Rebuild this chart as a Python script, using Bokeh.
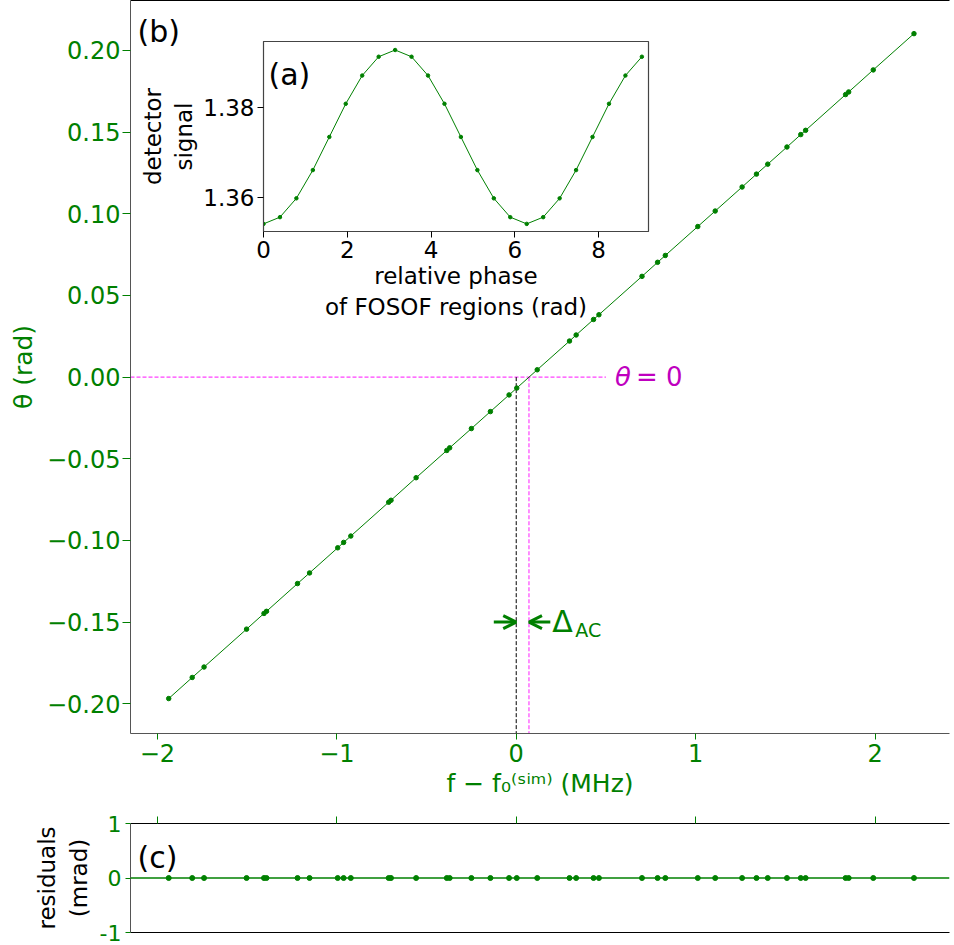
from bokeh.plotting import figure
from bokeh.models import (Range1d, LinearAxis, FixedTicker, CustomJSTickFormatter,
                          Label, Arrow, OpenHead, Span)
from bokeh.layouts import column
from bokeh.embed import file_html
from bokeh.resources import INLINE

# ---------------- data ----------------
freq_offset = [-1.937, -1.806, -1.740, -1.503, -1.406, -1.392, -1.219, -1.152, -0.995, -0.962,
               -0.922, -0.711, -0.698, -0.558, -0.387, -0.371, -0.250, -0.144, -0.040, 0.003,
               0.117, 0.297, 0.334, 0.431, 0.461, 0.701, 0.788, 0.831, 1.012, 1.109,
               1.259, 1.339, 1.402, 1.509, 1.586, 1.613, 1.836, 1.853, 1.990, 2.217]
theta = [-0.1968, -0.1839, -0.1775, -0.1543, -0.1447, -0.1434, -0.1264, -0.1199, -0.1045, -0.1012,
         -0.0973, -0.0766, -0.0754, -0.0616, -0.0449, -0.0433, -0.0315, -0.0211, -0.0109, -0.0067,
         0.0045, 0.0221, 0.0258, 0.0353, 0.0382, 0.0617, 0.0703, 0.0745, 0.0922, 0.1017,
         0.1164, 0.1243, 0.1304, 0.1409, 0.1485, 0.1511, 0.1730, 0.1746, 0.1881, 0.2103]
residuals = [0.0, 0.0, 0.0, 0.0, 0.0, 0.0, 0.0, 0.0, 0.0, 0.0,
             0.0, 0.0, 0.0, 0.0, 0.0, 0.0, 0.0, 0.0, 0.0, 0.0,
             0.0, 0.0, 0.0, 0.0, 0.0, 0.0, 0.0, 0.0, 0.0, 0.0,
             0.0, 0.0, 0.0, 0.0, 0.0, 0.0, 0.0, 0.0, 0.0, 0.0]
phase = [0.000, 0.393, 0.785, 1.178, 1.571, 1.963, 2.356, 2.749, 3.142, 3.534, 3.927, 4.320,
         4.712, 5.105, 5.498, 5.890, 6.283, 6.676, 7.069, 7.461, 7.854, 8.247, 8.639, 9.032]
signal = [1.3541, 1.3556, 1.3598, 1.3661, 1.3735, 1.3809, 1.3872, 1.3914, 1.3929, 1.3914, 1.3872, 1.3809,
          1.3735, 1.3661, 1.3598, 1.3556, 1.3541, 1.3556, 1.3598, 1.3661, 1.3735, 1.3809, 1.3872, 1.3914]
zero_crossing = 0.071          # MHz, where theta = 0 (Delta_AC)
theta_ticks = [-0.20, -0.15, -0.10, -0.05, 0.00, 0.05, 0.10, 0.15, 0.20]
freq_ticks = [-2, -1, 0, 1, 2]
resid_ticks = [-1, 0, 1]
phase_ticks = [0, 2, 4, 6, 8]
signal_ticks = [1.36, 1.38]

GREEN = "#008000"
MAG_TXT = "#bf00bf"
MAG = "#ff00ff"
FONT = "DejaVu Sans"

X0, X1 = -2.15, 2.415
Y0, Y1 = -0.2182, 0.2306


def style_axis(ax, ticks, tick_color, label_color, size="24px", tick_len=7,
               line_color="#555555", standoff=3):
    ax.ticker = FixedTicker(ticks=ticks)
    ax.major_tick_line_color = tick_color
    ax.major_tick_out = tick_len
    ax.major_tick_in = 0
    ax.minor_tick_line_color = None
    ax.axis_line_color = line_color
    ax.major_label_text_color = label_color
    ax.major_label_text_font = FONT
    ax.major_label_text_font_size = size
    ax.major_label_standoff = standoff


def style_label(ax, text, color, size="24px", standoff=4):
    ax.axis_label = text
    ax.axis_label_text_font = FONT
    ax.axis_label_text_font_size = size
    ax.axis_label_text_font_style = "normal"
    ax.axis_label_text_color = color
    ax.axis_label_standoff = standoff


def bare_axis(ticks=(), tick_color=GREEN, tick_len=0, line_color="black"):
    ax = LinearAxis(ticker=FixedTicker(ticks=list(ticks)))
    ax.axis_line_color = line_color
    ax.major_tick_line_color = tick_color
    ax.major_tick_out = tick_len
    ax.major_tick_in = 0
    ax.minor_tick_line_color = None
    ax.major_label_text_color = None
    ax.major_label_text_font_size = "1px"
    ax.major_label_standoff = 0
    return ax


minus_fmt2 = CustomJSTickFormatter(code="""
const v = Math.abs(tick) < 1e-9 ? 0 : tick;
return v.toFixed(2).replace('-', '\u2212');
""")
minus_fmt0 = CustomJSTickFormatter(code="""
const v = Math.abs(tick) < 1e-9 ? 0 : tick;
return v.toFixed(0).replace('-', '\u2212');
""")
hyphen_fmt0 = CustomJSTickFormatter(code="""
const v = Math.abs(tick) < 1e-9 ? 0 : tick;
return v.toFixed(0);
""")

# ---------------- main panel (b) ----------------
xr = Range1d(X0, X1)
main = figure(width=954, height=808, x_range=xr, y_range=Range1d(Y0, Y1),
              output_backend="svg", toolbar_location=None,
              min_border_left=123, min_border_right=0, min_border_top=0, min_border_bottom=75)
main.outline_line_color = None
main.grid.visible = False
main.background_fill_color = "white"
main.border_fill_color = "white"

style_axis(main.yaxis[0], theta_ticks, GREEN, GREEN, tick_len=8, standoff=2)
main.yaxis[0].formatter = minus_fmt2
style_label(main.yaxis[0], "θ (rad)", GREEN, size="25px", standoff=6)
style_axis(main.xaxis[0], freq_ticks, GREEN, GREEN, tick_len=6, standoff=4)
main.xaxis[0].formatter = minus_fmt0
style_label(main.xaxis[0], "f − f₀⁽ˢⁱᵐ⁾ (MHz)", GREEN, size="25px", standoff=4)
main.add_layout(bare_axis(), "above")

# guide lines
main.segment(x0=[X0], y0=[0], x1=[0.5], y1=[0], line_color=MAG, line_alpha=0.75,
             line_dash="4 2", line_width=1.2)
main.segment(x0=[zero_crossing], y0=[0], x1=[zero_crossing], y1=[Y0], line_color=MAG,
             line_alpha=0.75, line_dash="4 2", line_width=1.2)
main.segment(x0=[0], y0=[0], x1=[0], y1=[Y0], line_color="black", line_dash="4 2", line_width=1)

main.line(freq_offset, theta, line_color=GREEN, line_width=1)
main.scatter(freq_offset, theta, size=4.5, color=GREEN)

arrow_y = -0.15
for xs, xe in ((-0.125, 0.0), (0.19, zero_crossing)):
    main.add_layout(Arrow(end=OpenHead(size=13, line_color=GREEN, line_width=3),
                          x_start=xs, y_start=arrow_y, x_end=xe, y_end=arrow_y,
                          line_color=GREEN, line_width=3))
main.add_layout(Label(x=0.19, y=arrow_y, x_offset=2, y_offset=1, text="Δ", text_color=GREEN,
                      text_font=FONT, text_font_size="30px", text_baseline="middle"))
main.add_layout(Label(x=0.19, y=arrow_y, x_offset=25, y_offset=-8, text="AC", text_color=GREEN,
                      text_font=FONT, text_font_size="19px", text_baseline="middle"))

main.add_layout(Label(x=0.55, y=0, text="θ", text_color=MAG_TXT, text_font=FONT,
                      text_font_style="italic", text_font_size="26px", text_baseline="middle"))
main.add_layout(Label(x=0.55, y=0, x_offset=21, text="= 0", text_color=MAG_TXT, text_font=FONT,
                      text_font_size="26px", text_baseline="middle"))

main.add_layout(Label(x=7, y=702, x_units="screen", y_units="screen", text="(b)", text_color="black",
                      text_font=FONT, text_font_size="30px", text_baseline="middle"))

# ---------------- residuals panel (c) ----------------
res = figure(width=954, height=137, x_range=xr, y_range=Range1d(-1, 1),
             output_backend="svg", toolbar_location=None,
             min_border_left=123, min_border_right=0, min_border_top=15, min_border_bottom=13)
res.outline_line_color = None
res.grid.visible = False
res.background_fill_color = "white"
res.border_fill_color = "white"
style_axis(res.yaxis[0], resid_ticks, GREEN, GREEN, size="22px", tick_len=5, standoff=4)
res.yaxis[0].formatter = hyphen_fmt0
style_label(res.yaxis[0], "residuals\n(mrad)", "black", size="23px", standoff=5)
res.xaxis[0].ticker = FixedTicker(ticks=[])
res.xaxis[0].axis_line_color = "black"
res.xaxis[0].major_tick_out = 0
res.xaxis[0].major_label_text_color = None
res.xaxis[0].major_label_text_font_size = "1px"
res.xaxis[0].major_label_standoff = 0
res.xaxis[0].minor_tick_line_color = None
res.add_layout(bare_axis(freq_ticks, GREEN, 7, "black"), "above")
res.add_layout(Span(location=0, dimension="width", line_color=GREEN, line_width=1.5))
res.scatter(freq_offset, residuals, size=5, color=GREEN)
res.add_layout(Label(x=7, y=75, x_units="screen", y_units="screen", text="(c)", text_color="black",
                     text_font=FONT, text_font_size="30px", text_baseline="middle"))

# ---------------- inset (a) ----------------
inset = figure(width=520, height=286, x_range=Range1d(0, 9.19), y_range=Range1d(1.3524, 1.3948),
               output_backend="svg", toolbar_location=None,
               min_border_left=130, min_border_right=5, min_border_top=5, min_border_bottom=90,
               styles={"position": "absolute", "left": "133px", "top": "36px", "z-index": "10"})
inset.grid.visible = False
inset.background_fill_color = "white"
inset.border_fill_color = None
inset.outline_line_color = "#444444"
inset.outline_line_width = 1.2
style_axis(inset.yaxis[0], signal_ticks, "black", "black", size="23px", tick_len=6,
           line_color="#444444", standoff=3)
style_axis(inset.xaxis[0], phase_ticks, "black", "black", size="23px", tick_len=6,
           line_color="#444444", standoff=3)
style_label(inset.yaxis[0], "detector\nsignal", "black", size="23px", standoff=3)
style_label(inset.xaxis[0], "relative phase\nof FOSOF regions (rad)", "black", size="23px", standoff=2)
inset.line(phase, signal, line_color=GREEN, line_width=1)
inset.scatter(phase, signal, size=3.5, color=GREEN)
inset.add_layout(Label(x=5, y=157, x_units="screen", y_units="screen", text="(a)", text_color="black",
                       text_font=FONT, text_font_size="30px", text_baseline="middle"))

layout = column(main, res, inset, spacing=0)
open("out.html", "w").write(file_html(layout, INLINE))
